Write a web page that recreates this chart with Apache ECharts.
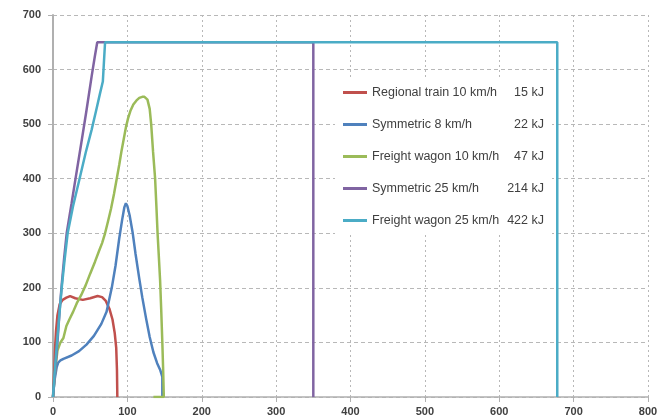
<!DOCTYPE html>
<html>
<head>
<meta charset="utf-8">
<script src="https://cdn.jsdelivr.net/npm/echarts@6/dist/echarts.min.js"></script>
<style>html,body{margin:0;padding:0;background:#fff}#c{width:668px;height:418px}</style>
</head>
<body>
<div id="c"></div>
<script>
const seriesNames = ['Regional train 10 km/h', 'Symmetric 8 km/h', 'Freight wagon 10 km/h', 'Symmetric 25 km/h', 'Freight wagon 25 km/h'];
const energies = ['15 kJ', '22 kJ', '47 kJ', '214 kJ', '422 kJ'];
const colors = ['#C0504D', '#4F81BD', '#9BBB59', '#8064A2', '#4BACC6'];
const xTicks = [0, 100, 200, 300, 400, 500, 600, 700, 800];
const yTicks = [0, 100, 200, 300, 400, 500, 600, 700];

const regional10 = [[0,0],[1,30],[2,60],[3,95],[4,120],[6,150],[9,170],[13,178],[18,182],[23,185],[30,181],[40,178],[50,181],[60,185],[66,183],[71,176],[76,161],[80,142],[83,117],[85,90],[86,50],[86.5,0]];
const symmetric8 = [[0,0],[2,30],[5,55],[7,63],[10,67],[14,70],[25,76],[35,84],[45,96],[55,112],[65,134],[72,156],[79,200],[84,240],[89,290],[93,325],[96,348],[98,355],[100,350],[103,333],[107,302],[111,262],[116,217],[120,183],[125,145],[130,110],[135,82],[140,62],[144,50],[147,37],[147,0]];
const freight10 = [[0,0],[3,50],[6,85],[10,100],[14,108],[18,130],[22,142],[27,156],[32,172],[38,187],[44,205],[50,226],[56.5,248],[62,268],[66,282],[70,300],[74,322],[78,345],[82,372],[85.7,400],[89,425],[92,450],[95,472],[98,494],[101,511],[104,524],[108,536],[112,543],[116,548],[120,550],[123,550],[127,545],[130,528],[132,500],[134.5,450],[137.3,400],[139,350],[140.6,300],[142.2,260],[144,214],[145.5,160],[147,100],[148,55],[149,0],[135,0]];
const symmetric25 = [[0,0],[3,50],[6,100],[9,160],[12,210],[15,255],[18.4,300],[25,355],[30.5,402],[38,465],[45,525],[52,588],[56,622],[59.5,650],[350,650],[350,0]];
const freight25 = [[0,0],[2.5,50],[5.4,100],[8.5,150],[11.7,200],[15.5,250],[19.7,300],[27,350],[35.4,398],[44,448],[52,490],[58,525],[63,555],[67,578],[70,650],[678,650],[678,0]];

const dataSets = [regional10, symmetric8, freight10, symmetric25, freight25];

const chart = echarts.init(document.getElementById('c'), null, {renderer: 'canvas'});
const font = 'Liberation Sans, Arial, sans-serif';
const labelStyle = {color: '#404040', fontSize: 11, fontWeight: 'bold', fontFamily: font};
chart.setOption({
  animation: false,
  backgroundColor: '#fff',
  grid: {left: 53, right: 20, top: 15, bottom: 21},
  xAxis: {
    type: 'value', min: xTicks[0], max: xTicks[xTicks.length - 1], interval: 100,
    axisLine: {show: true, lineStyle: {color: '#b0b0b0', width: 1.5}},
    axisTick: {show: true, length: 5, lineStyle: {color: '#b0b0b0'}},
    axisLabel: Object.assign({margin: 9}, labelStyle),
    splitLine: {show: true, lineStyle: {color: '#b8b8b8', type: [2, 3], width: 1}}
  },
  yAxis: {
    type: 'value', min: yTicks[0], max: yTicks[yTicks.length - 1], interval: 100,
    axisLine: {show: true, lineStyle: {color: '#b0b0b0', width: 2}},
    axisTick: {show: true, length: 5, lineStyle: {color: '#b0b0b0'}},
    axisLabel: Object.assign({margin: 12}, labelStyle),
    splitLine: {show: true, lineStyle: {color: '#b8b8b8', type: [4, 3], width: 1}}
  },
  legend: {
    orient: 'vertical', left: 335, top: 78,
    padding: [8, 8, 8, 8],
    backgroundColor: '#ffffff',
    itemGap: 19, itemWidth: 24, itemHeight: 3, icon: 'rect',
    data: seriesNames,
    formatter: function (name) {
      const i = seriesNames.indexOf(name);
      return '{a|' + name + '}{b|' + energies[i] + '}';
    },
    textStyle: {
      color: '#404040', fontSize: 12.5, fontFamily: font,
      rich: {
        a: {width: 131, fontSize: 12.5, color: '#404040', fontFamily: font},
        b: {width: 41, align: 'right', fontSize: 12.5, color: '#404040', fontFamily: font}
      }
    }
  },
  series: seriesNames.map(function (n, i) {
    return {
      name: n, type: 'line', data: dataSets[i], showSymbol: false, symbol: 'none',
      color: colors[i],
      lineStyle: {color: colors[i], width: 2.5},
      itemStyle: {color: colors[i]}
    };
  })
});
</script>
</body>
</html>
